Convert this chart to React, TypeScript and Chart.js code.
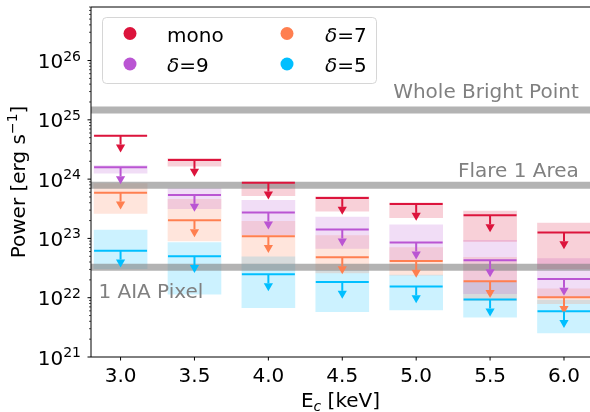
import React, { useEffect, useRef } from "react";
import { Chart, registerables } from "chart.js";
Chart.register(...registerables);

// ---------- data ----------
const categories = [3.0, 3.5, 4.0, 4.5, 5.0, 5.5, 6.0];
const xTickLabels = ["3.0", "3.5", "4.0", "4.5", "5.0", "5.5", "6.0"];
const yTickExponents = [21, 22, 23, 24, 25, 26];

const seriesNames = ["mono", "δ=9", "δ=7", "δ=5"];
const seriesColors = ["#DC143C", "#BA55D3", "#FF7F50", "#00BFFF"];

const monoLimit = [5.4e24, 2.1e24, 8.7e23, 4.8e23, 3.8e23, 2.45e23, 1.26e23];
const monoLow = [5.3e24, 1.66e24, 5.25e23, 2.88e23, 2.24e23, 8.9e22, 3.1e22];
const monoHigh = [5.5e24, 2.24e24, 8.9e23, 5.1e23, 4.0e23, 2.9e23, 1.82e23];

const d9Limit = [1.58e24, 5.4e23, 2.73e23, 1.41e23, 8.5e22, 4.27e22, 2.07e22];
const d9Low = [1.26e24, 3.16e23, 1.16e23, 6.8e22, 4.27e22, 1.17e22, 1.02e22];
const d9High = [1.7e24, 6.9e23, 4.37e23, 2.29e23, 1.7e23, 9.3e22, 4.57e22];

const d7Limit = [5.9e23, 2.02e23, 1.09e23, 4.8e22, 4.17e22, 1.9e22, 1.02e22];
const d7Low = [2.63e23, 9.1e22, 3.76e22, 2.63e22, 2.4e22, 8.9e21, 7.9e21];
const d7High = [8.4e23, 4.57e23, 1.95e23, 1.12e23, 7.0e22, 4.8e22, 1.41e22];

const d5Limit = [6.2e22, 5.0e22, 2.48e22, 1.84e22, 1.55e22, 9.3e21, 5.9e21];
const d5Low = [3.1e22, 1.15e22, 6.8e21, 5.8e21, 6.2e21, 4.7e21, 2.54e21];
const d5High = [1.38e23, 8.5e22, 4.9e22, 2.9e22, 2.4e22, 1.82e22, 9.1e21];

const refNames = ["Whole Bright Point", "Flare 1 Area", "1 AIA Pixel"];
const refValues = [1.47e25, 7.9e23, 3.26e22];
const refLabelX = [6.1, 6.1, 2.85];
const refLabelY = [2.34e25, 1.09e24, 9.7e21];
const refLabelAlign = ["right", "right", "left"];

const X_MIN = 2.8;
const X_MAX = 6.176;
const Y_MIN = 1e21;
const Y_MAX = 8e26;
const ARROW_FRAC = 0.71;

const limits = [monoLimit, d9Limit, d7Limit, d5Limit];
const lows = [monoLow, d9Low, d7Low, d5Low];
const highs = [monoHigh, d9High, d7High, d5High];

const FONT = "DejaVu Sans";

function rgba(hex: string, a: number) {
  const r = parseInt(hex.slice(1, 3), 16);
  const g = parseInt(hex.slice(3, 5), 16);
  const b = parseInt(hex.slice(5, 7), 16);
  return `rgba(${r},${g},${b},${a})`;
}

// draws label text with δ in italic
function drawSeriesLabel(ctx: CanvasRenderingContext2D, name: string, x: number, y: number) {
  ctx.textAlign = "left";
  ctx.textBaseline = "alphabetic";
  ctx.fillStyle = "#000";
  if (name.startsWith("δ")) {
    ctx.font = `italic 20px ${FONT}`;
    ctx.fillText("δ", x, y);
    const w = ctx.measureText("δ").width;
    ctx.font = `20px ${FONT}`;
    ctx.fillText(name.slice(1), x + w, y);
  } else {
    ctx.font = `20px ${FONT}`;
    ctx.fillText(name, x, y);
  }
}

const arrowsPlugin = {
  id: "arrows",
  afterDatasetsDraw(chart: any) {
    const ctx = chart.ctx as CanvasRenderingContext2D;
    const xs = chart.scales.x;
    const ys = chart.scales.y;
    ctx.save();
    const area = chart.chartArea;
    ctx.beginPath();
    ctx.rect(area.left, area.top, area.right - area.left, area.bottom - area.top);
    ctx.clip();
    limits.forEach((arr, i) => {
      ctx.strokeStyle = seriesColors[i];
      ctx.fillStyle = seriesColors[i];
      ctx.lineWidth = 2;
      arr.forEach((v, j) => {
        const px = xs.getPixelForValue(categories[j]);
        const py0 = ys.getPixelForValue(v);
        const py1 = ys.getPixelForValue(v * ARROW_FRAC);
        ctx.beginPath();
        ctx.moveTo(px, py0);
        ctx.lineTo(px, py1);
        ctx.stroke();
        ctx.beginPath();
        ctx.moveTo(px - 4.6, py1);
        ctx.lineTo(px + 4.6, py1);
        ctx.lineTo(px, py1 + 8);
        ctx.closePath();
        ctx.fill();
      });
    });
    // reference labels
    ctx.font = `20px ${FONT}`;
    ctx.fillStyle = "#808080";
    ctx.textBaseline = "alphabetic";
    refNames.forEach((n, i) => {
      ctx.textAlign = refLabelAlign[i] as CanvasTextAlign;
      ctx.fillText(n, xs.getPixelForValue(refLabelX[i]), ys.getPixelForValue(refLabelY[i]));
    });
    ctx.restore();
  },
};

const axesPlugin = {
  id: "axesDraw",
  afterDraw(chart: any) {
    const ctx = chart.ctx as CanvasRenderingContext2D;
    const xs = chart.scales.x;
    const ys = chart.scales.y;
    const a = chart.chartArea;
    ctx.save();
    ctx.strokeStyle = "#000";
    ctx.lineWidth = 1;
    // spines
    ctx.beginPath();
    ctx.moveTo(a.left, a.top);
    ctx.lineTo(a.left, a.bottom);
    ctx.lineTo(a.right, a.bottom);
    ctx.moveTo(a.left, a.top);
    ctx.lineTo(a.right, a.top);
    ctx.stroke();

    // x ticks
    ctx.font = `20px ${FONT}`;
    ctx.fillStyle = "#000";
    ctx.textAlign = "center";
    ctx.textBaseline = "alphabetic";
    categories.forEach((c, i) => {
      const px = xs.getPixelForValue(c);
      ctx.beginPath();
      ctx.moveTo(px, a.bottom);
      ctx.lineTo(px, a.bottom + 3.5);
      ctx.stroke();
      ctx.fillText(xTickLabels[i], px, a.bottom + 25);
    });

    // y ticks
    yTickExponents.forEach((e) => {
      for (let k = 1; k <= 9; k++) {
        const v = k * Math.pow(10, e);
        if (v > Y_MAX * 1.0001) break;
        const py = ys.getPixelForValue(v);
        ctx.lineWidth = k === 1 ? 1 : 0.7;
        ctx.beginPath();
        ctx.moveTo(a.left, py);
        ctx.lineTo(a.left - (k === 1 ? 3.5 : 2), py);
        ctx.stroke();
      }
      const py = ys.getPixelForValue(Math.pow(10, e));
      const right = a.left - 10;
      ctx.textAlign = "right";
      ctx.font = `14px ${FONT}`;
      const expStr = String(e);
      const ew = ctx.measureText(expStr).width;
      ctx.fillText(expStr, right, py);
      ctx.font = `20px ${FONT}`;
      ctx.fillText("10", right - ew, py + 7.5);
    });

    // x title
    const cx = (a.left + a.right) / 2;
    ctx.textAlign = "left";
    ctx.font = `20px ${FONT}`;
    const wE = ctx.measureText("E").width;
    ctx.font = `italic 14px ${FONT}`;
    const wc = ctx.measureText("c").width;
    ctx.font = `20px ${FONT}`;
    const wRest = ctx.measureText(" [keV]").width;
    let x0 = cx - (wE + wc + wRest) / 2;
    const by = 407;
    ctx.fillText("E", x0, by);
    ctx.font = `italic 14px ${FONT}`;
    ctx.fillText("c", x0 + wE, by + 4);
    ctx.font = `20px ${FONT}`;
    ctx.fillText(" [keV]", x0 + wE + wc, by);

    // y title
    ctx.save();
    ctx.translate(25, (a.top + a.bottom) / 2);
    ctx.rotate(-Math.PI / 2);
    ctx.font = `20px ${FONT}`;
    const p1 = "Power [erg s";
    const w1 = ctx.measureText(p1).width;
    ctx.font = `14px ${FONT}`;
    const sup = "−1";
    const w2 = ctx.measureText(sup).width;
    ctx.font = `20px ${FONT}`;
    const w3 = ctx.measureText("]").width;
    let tx = -(w1 + w2 + w3) / 2;
    ctx.fillText(p1, tx, 0);
    ctx.font = `14px ${FONT}`;
    ctx.fillText(sup, tx + w1, -7.6);
    ctx.font = `20px ${FONT}`;
    ctx.fillText("]", tx + w1 + w2, 0);
    ctx.restore();

    // legend
    const lx = 102.5, ly = 17.5, lw = 274, lh = 66, r = 4;
    ctx.beginPath();
    ctx.moveTo(lx + r, ly);
    ctx.lineTo(lx + lw - r, ly);
    ctx.quadraticCurveTo(lx + lw, ly, lx + lw, ly + r);
    ctx.lineTo(lx + lw, ly + lh - r);
    ctx.quadraticCurveTo(lx + lw, ly + lh, lx + lw - r, ly + lh);
    ctx.lineTo(lx + r, ly + lh);
    ctx.quadraticCurveTo(lx, ly + lh, lx, ly + lh - r);
    ctx.lineTo(lx, ly + r);
    ctx.quadraticCurveTo(lx, ly, lx + r, ly);
    ctx.closePath();
    ctx.fillStyle = "rgba(255,255,255,0.8)";
    ctx.fill();
    ctx.strokeStyle = "rgba(204,204,204,0.8)";
    ctx.lineWidth = 1;
    ctx.stroke();
    const cols = [{ m: 130, t: 167 }, { m: 287, t: 325 }];
    const rows = [33.5, 64];
    seriesNames.forEach((n, i) => {
      const col = cols[Math.floor(i / 2)];
      const row = rows[i % 2];
      ctx.beginPath();
      ctx.arc(col.m, row, 6.5, 0, Math.PI * 2);
      ctx.fillStyle = seriesColors[i];
      ctx.fill();
      drawSeriesLabel(ctx, n, col.t, row + 8);
    });
    ctx.restore();
  },
};

export default function App() {
  const ref = useRef<HTMLCanvasElement | null>(null);
  useEffect(() => {
    document.body.style.margin = "0";
    const canvas = ref.current!;
    const datasets: any[] = [];
    seriesNames.forEach((n, i) => {
      datasets.push({
        type: "bar",
        label: n + " range",
        data: categories.map((c, j) => ({ x: c, y: [lows[i][j], highs[i][j]] })),
        backgroundColor: rgba(seriesColors[i], 0.2),
        borderWidth: 0,
        barThickness: 53,
        grouped: false,
        order: 10,
      });
    });
    refValues.forEach((v, i) => {
      datasets.push({
        type: "line",
        label: refNames[i],
        data: [{ x: X_MIN, y: v }, { x: X_MAX, y: v }],
        borderColor: "rgba(128,128,128,0.6)",
        borderWidth: 7,
        pointRadius: 0,
        order: 5,
      });
    });
    seriesNames.forEach((n, i) => {
      datasets.push({
        type: "scatter",
        label: n,
        data: categories.map((c, j) => ({ x: c, y: limits[i][j] })),
        pointStyle: "line",
        pointRadius: 26.5,
        pointBorderWidth: 2,
        pointBorderColor: seriesColors[i],
        borderColor: seriesColors[i],
        showLine: false,
        order: 1,
      });
    });
    const chart = new Chart(canvas, {
      type: "bar",
      data: { datasets },
      options: {
        animation: false,
        responsive: false,
        devicePixelRatio: 1,
        layout: { autoPadding: false, padding: { top: 7, right: 0, bottom: 0, left: 0 } },
        plugins: { legend: { display: false }, tooltip: { enabled: false } },
        events: [],
        scales: {
          x: {
            type: "linear",
            offset: false,
            min: X_MIN,
            max: X_MAX,
            grid: { display: false, offset: false },
            border: { display: false },
            ticks: { display: false },
            afterFit: (s: any) => {
              s.height = 55;
            },
          },
          y: {
            type: "logarithmic",
            min: Y_MIN,
            max: Y_MAX,
            grid: { display: false },
            border: { display: false },
            ticks: { display: false },
            afterFit: (s: any) => {
              s.width = 91;
            },
          },
        },
      } as any,
      plugins: [arrowsPlugin, axesPlugin],
    });
    return () => chart.destroy();
  }, []);
  return (
    <canvas
      ref={ref}
      width={590}
      height={412}
      style={{ display: "block", width: 590, height: 412 }}
    />
  );
}
